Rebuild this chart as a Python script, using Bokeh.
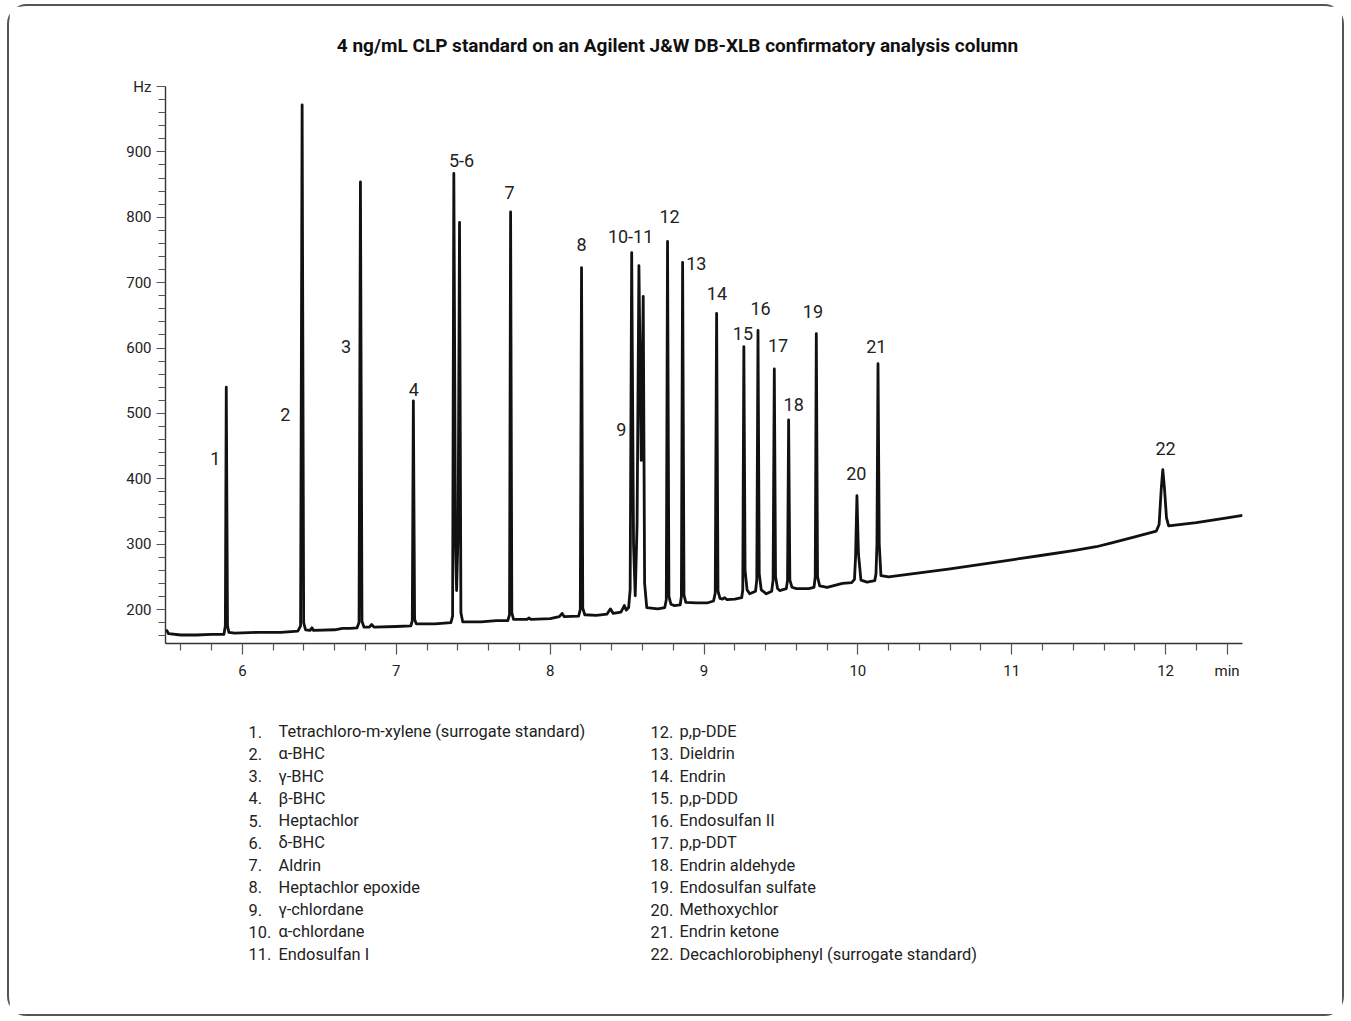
from bokeh.plotting import figure
from bokeh.layouts import column
from bokeh.models import FixedTicker
from bokeh.core.properties import value
from bokeh.embed import file_html
from bokeh.resources import INLINE

# ---------------- data ----------------
TITLE = "4 ng/mL CLP standard on an Agilent J&W DB-XLB confirmatory analysis column"

# chromatogram trace: retention time (min) and detector signal (Hz)
trace_t = [
    5.500, 5.508, 5.520, 5.600, 5.700, 5.800, 5.880,
    5.889, 5.895, 5.903, 5.912,
    5.950, 6.100, 6.250, 6.360,
    6.378, 6.388, 6.398, 6.410,
    6.440, 6.452, 6.462, 6.600, 6.650, 6.700, 6.745,
    6.758, 6.767, 6.777, 6.790,
    6.825, 6.840, 6.855, 7.000, 7.095,
    7.104, 7.111, 7.119, 7.130,
    7.250, 7.355,
    7.366, 7.374, 7.385, 7.392, 7.402, 7.411, 7.420, 7.432,
    7.550, 7.650, 7.725,
    7.736, 7.743, 7.751, 7.762,
    7.850, 7.862, 7.875, 8.000, 8.060, 8.078, 8.092, 8.185,
    8.196, 8.204, 8.212, 8.225,
    8.300, 8.370, 8.392, 8.410, 8.460, 8.482, 8.495, 8.510,
    8.520, 8.530, 8.542, 8.553, 8.565, 8.577, 8.592, 8.605, 8.614, 8.628,
    8.700, 8.745,
    8.755, 8.763, 8.772, 8.785, 8.808, 8.845,
    8.853, 8.861, 8.870, 8.882,
    8.950, 9.020, 9.062,
    9.073, 9.082, 9.091, 9.104, 9.120, 9.135, 9.150, 9.200, 9.245,
    9.252, 9.259, 9.267, 9.280, 9.297, 9.335,
    9.343, 9.351, 9.359, 9.372, 9.405, 9.440,
    9.449, 9.457, 9.465, 9.478, 9.492, 9.535,
    9.543, 9.550, 9.558, 9.572, 9.600, 9.680, 9.715,
    9.723, 9.730, 9.738, 9.752, 9.800, 9.850, 9.900, 9.960, 9.978,
    9.985, 9.994, 10.004, 10.020, 10.060, 10.110, 10.118,
    10.124, 10.131, 10.139, 10.150, 10.200,
    10.400, 10.600, 10.800, 11.000, 11.200, 11.400, 11.550, 11.650, 11.800, 11.940,
    11.958, 11.972, 11.982, 11.993, 12.006, 12.020, 12.200, 12.400, 12.500,
]
trace_v = [
    166, 168, 163, 161, 161, 162, 162,
    175, 540, 175, 165,
    164, 165, 165, 167,
    175, 972, 180, 169,
    168, 172, 168, 169, 171, 171, 172,
    180, 854, 182, 173,
    173, 177, 173, 174, 175,
    183, 519, 185, 178,
    178, 180,
    190, 867, 300, 229, 320, 792, 195, 181,
    181, 183, 183,
    192, 808, 195, 185,
    185, 187, 185, 186, 189, 194, 189, 190,
    200, 723, 202, 192,
    191, 193, 201, 194, 196, 206, 199, 203,
    230, 746, 300, 221, 330, 726, 428, 679, 240, 203,
    201, 203,
    215, 763, 220, 208, 206, 207,
    220, 731, 222, 211,
    210, 210, 213,
    225, 653, 228, 217, 216, 218, 215, 216, 218,
    230, 602, 260, 230, 224, 228,
    245, 627, 255, 230, 224, 228,
    245, 568, 250, 232, 229, 232,
    245, 490, 245, 234, 232, 232, 234,
    250, 622, 250, 236, 234, 237, 240, 241, 246,
    280, 374, 285, 245, 242, 244, 255,
    300, 576, 300, 252, 250,
    256, 262, 269, 276, 283, 290, 296, 302, 311, 320,
    330, 385, 414, 385, 340, 328, 333, 340, 344,
]

# peak number labels and where they sit (min, Hz)
peak_labels = ["1", "2", "3", "4", "5-6", "7", "8", "9", "10-11", "12", "13",
               "14", "15", "16", "17", "18", "19", "20", "21", "22"]
label_t = [5.824, 6.278, 6.674, 7.114, 7.424, 7.736, 8.204, 8.462, 8.523, 8.776, 8.95,
           9.084, 9.253, 9.368, 9.481, 9.583, 9.708, 9.99, 10.12, 12.0]
label_v = [431, 498, 602, 536, 887, 838, 759, 475, 770, 801, 729,
           683, 622, 660, 604, 513, 656, 408, 603, 446]

# compound key
key_left = [
    "Tetrachloro-m-xylene (surrogate standard)", "α-BHC", "γ-BHC", "β-BHC",
    "Heptachlor", "δ-BHC", "Aldrin", "Heptachlor epoxide", "γ-chlordane",
    "α-chlordane", "Endosulfan I",
]
key_right = [
    "p,p-DDE", "Dieldrin", "Endrin", "p,p-DDD", "Endosulfan II", "p,p-DDT",
    "Endrin aldehyde", "Endosulfan sulfate", "Methoxychlor", "Endrin ketone",
    "Decachlorobiphenyl (surrogate standard)",
]

x_ticks = [6, 7, 8, 9, 10, 11, 12, 12.4]
x_tick_names = {12.4: "min"}
x_minor = [5.6, 5.8, 6.2, 6.4, 6.6, 6.8, 7.2, 7.4, 7.6, 7.8, 8.2, 8.4, 8.6, 8.8,
           9.2, 9.4, 9.6, 9.8, 10.2, 10.4, 10.6, 10.8, 11.2, 11.4, 11.6, 11.8,
           12.2]
y_ticks = [200, 300, 400, 500, 600, 700, 800, 900, 1000]
y_tick_names = {1000: "Hz"}
y_minor = [160, 180, 220, 240, 260, 280, 320, 340, 360, 380, 420, 440, 460, 480,
           520, 540, 560, 580, 620, 640, 660, 680, 720, 740, 760, 780, 820, 840,
           860, 880, 920, 940, 960, 980]

# ---------------- styling / layout (page pixel coordinates) ----------------
FONT = "Roboto"
INK = "#222222"
W = 1333
PX0, PY0 = 9, 6              # page position of the layout's top-left corner
TITLE_H = 70                 # page y 6 .. 76
MAIN_H = 624                 # page y 76 .. 700
KEY_H = 314                  # page y 700 .. 1014
FRAME_L, FRAME_R, FRAME_T, FRAME_B = 165, 1242, 86, 643


def text_panel(top, h):
    # frames in a column are aligned with the chart frame, so x spans FRAME_L..FRAME_R
    f = figure(width=W, height=h, x_range=(FRAME_L, FRAME_R), y_range=(top + h, top),
               output_backend="svg", toolbar_location=None,
               x_axis_type=None, y_axis_type=None,
               min_border_left=FRAME_L - PX0, min_border_right=W - (FRAME_R - PX0),
               min_border_top=0, min_border_bottom=0)
    f.outline_line_color = None
    f.grid.visible = False
    f.background_fill_color = "white"
    f.border_fill_color = "white"
    return f


# title
tf = text_panel(PY0, TITLE_H)
tf.text(x=[677], y=[45], text=[TITLE], text_font=value(FONT),
        text_font_size="19px", text_font_style="bold", text_color="#111111",
        text_align="center", text_baseline="middle")

# chromatogram
p = figure(width=W, height=MAIN_H, x_range=(5.5, 12.5), y_range=(148, 1000),
           output_backend="svg", toolbar_location=None,
           min_border_left=FRAME_L - PX0,
           min_border_right=W - (FRAME_R - PX0),
           min_border_top=FRAME_T - (PY0 + TITLE_H),
           min_border_bottom=(PY0 + TITLE_H + MAIN_H) - FRAME_B)
p.background_fill_color = "white"
p.border_fill_color = "white"
p.outline_line_color = None
p.grid.visible = False

xa = p.xaxis[0]
xa.ticker = FixedTicker(ticks=x_ticks, minor_ticks=x_minor)
xa.major_label_overrides = x_tick_names
xa.major_tick_out = 11
xa.major_tick_in = 0
xa.minor_tick_out = 7
xa.minor_tick_in = 0
xa.major_label_standoff = 7

ya = p.yaxis[0]
ya.ticker = FixedTicker(ticks=y_ticks, minor_ticks=y_minor)
ya.major_label_overrides = y_tick_names
ya.major_tick_out = 9
ya.major_tick_in = 0
ya.minor_tick_out = 7
ya.minor_tick_in = 0
ya.major_label_standoff = 5

for ax in (xa, ya):
    ax.axis_line_color = "#333333"
    ax.axis_line_width = 1.4
    ax.major_tick_line_color = "#555555"
    ax.minor_tick_line_color = "#555555"
    ax.major_tick_line_width = 1.2
    ax.minor_tick_line_width = 1.2
    ax.major_label_text_font = FONT
    ax.major_label_text_font_size = "15px"
    ax.major_label_text_color = INK

p.line(trace_t, trace_v, line_color="#111111", line_width=2.8, line_join="round")

p.text(x=label_t, y=label_v, text=peak_labels, text_font=value(FONT),
       text_font_size="18px", text_color=INK, text_align="center",
       text_baseline="middle")

# compound key
key_top = PY0 + TITLE_H + MAIN_H
kf = text_panel(key_top, KEY_H)
row0, row_step = 731, 22.26
rows = [row0 + i * row_step for i in range(len(key_left))]
KEY_SIZE = "16.4px"
kf.text(x=[248] * len(key_left), y=rows,
        text=[f"{i + 1}." for i in range(len(key_left))],
        text_font=value(FONT), text_font_size=KEY_SIZE, text_color=INK,
        text_baseline="middle")
kf.text(x=[278] * len(key_left), y=rows, text=key_left,
        text_font=value(FONT), text_font_size=KEY_SIZE, text_color=INK,
        text_baseline="middle")
kf.text(x=[650] * len(key_right), y=rows,
        text=[f"{i + 12}." for i in range(len(key_right))],
        text_font=value(FONT), text_font_size=KEY_SIZE, text_color=INK,
        text_baseline="middle")
kf.text(x=[679] * len(key_right), y=rows, text=key_right,
        text_font=value(FONT), text_font_size=KEY_SIZE, text_color=INK,
        text_baseline="middle")

layout = column(tf, p, kf, spacing=0)
layout.styles = {"margin-left": f"{PX0}px", "margin-top": f"{PY0}px",
                 "outline": "2px solid #555555", "border-radius": "18px"}

open("out.html", "w").write(file_html(layout, INLINE))
